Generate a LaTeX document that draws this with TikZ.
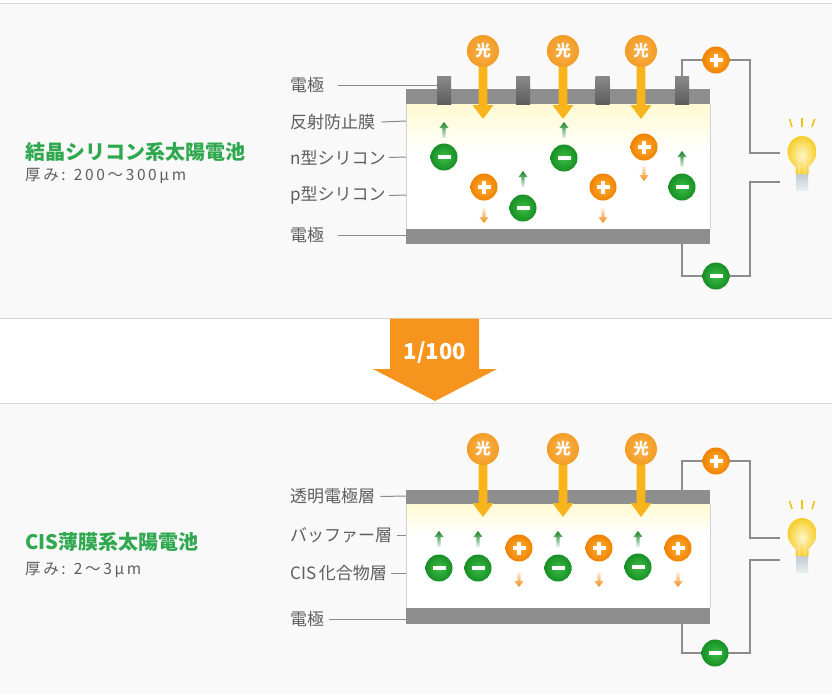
\documentclass[tikz,border=0pt]{standalone}
\usepackage{fontspec}
\setmainfont{Noto Sans CJK JP}
\newfontfamily\jpfont{Noto Sans CJK JP}

\definecolor{panelbg}{HTML}{F9F9F9}
\definecolor{sepline}{HTML}{D6D6D6}
\definecolor{barcol}{HTML}{8E8E8E}
\definecolor{tabtop}{HTML}{8A8A8A}
\definecolor{tabbot}{HTML}{5C5C5C}
\definecolor{wirecol}{HTML}{8C8C8C}
\definecolor{leadcol}{HTML}{8A8A8A}
\definecolor{labelgrey}{HTML}{5E5E5E}
\definecolor{titlegreen}{HTML}{2FA84F}
\definecolor{egreen}{HTML}{178F25}
\definecolor{egreenlt}{HTML}{3CBD45}
\definecolor{horange}{HTML}{F08200}
\definecolor{horangelt}{HTML}{FFB23A}
\definecolor{sunorange}{HTML}{F39C24}
\definecolor{sunorangelt}{HTML}{F9B452}
\definecolor{beamcol}{HTML}{F8B41A}
\definecolor{bigarrow}{HTML}{F7941D}
\definecolor{paleyellow}{HTML}{FFFAD2}
\definecolor{boxedge}{HTML}{D2D2D2}
\definecolor{bulbout}{HTML}{F6CF2E}
\definecolor{bulbin}{HTML}{FFF6C4}
\definecolor{raycol}{HTML}{EEC21C}
\definecolor{basetop}{HTML}{BCC8D0}
\definecolor{basebot}{HTML}{E8EDF0}

\tikzset{
  x=1pt, y=-1pt,
  lbl/.style={font=\jpfont\fontsize{17}{18}\selectfont, text=labelgrey, inner sep=0pt, anchor=west},
  titletext/.style={font=\jpfont\bfseries\fontsize{20}{21}\selectfont, text=titlegreen, inner sep=0pt, anchor=west},
  subtext/.style={font=\jpfont\addfontfeature{LetterSpace=17}\fontsize{15.5}{16}\selectfont, text=labelgrey, inner sep=0pt, anchor=west},
  leader/.style={draw=leadcol, line width=1pt},
  wire/.style={draw=wirecol, line width=2.3pt},
  tabrect/.style={rectangle, minimum width=14pt, minimum height=28pt, inner sep=0pt,
                  top color=tabtop, bottom color=tabbot, draw=none},
  dot/.style={circle, minimum size=27pt, inner sep=0pt},
  % free electron: green disc with a minus sign
  electron/.pic={
    \shade[inner color=egreenlt, outer color=egreen] (0,0) circle (13.5pt);
    \fill[white] (-6.5,-1.7) rectangle (6.5,1.7);
  },
  % hole: orange disc with a plus sign
  hole/.pic={
    \shade[inner color=horangelt, outer color=horange] (0,0) circle (13.5pt);
    \fill[white] (-6.5,-1.6) rectangle (6.5,1.6);
    \fill[white] (-1.6,-6.5) rectangle (1.6,6.5);
  },
  % small drift arrows
  uparrow/.pic={
    \shade[top color=egreen!90!black, bottom color=egreen!10] (0,0) -- (4.6,6) -- (1.7,6) -- (1.7,16)
      -- (-1.7,16) -- (-1.7,6) -- (-4.6,6) -- cycle;
  },
  downarrow/.pic={
    \shade[bottom color=horange!95, top color=horange!12] (0,15) -- (4.6,9) -- (1.7,9) -- (1.7,0)
      -- (-1.7,0) -- (-1.7,9) -- (-4.6,9) -- cycle;
  },
  % incoming light: disc with the character and a downward arrow
  lightbeam/.pic={
    \fill[beamcol] (-4.3,10) -- (4.3,10) -- (4.3,54) -- (10.5,54) -- (0,68) -- (-10.5,54) -- (-4.3,54) -- cycle;
    \shade[inner color=sunorangelt, outer color=sunorange] (0,0) circle (16pt);
    \node[font=\jpfont\bfseries\fontsize{15.5}{16}\selectfont, text=white, inner sep=0pt] at (0,0) {光};
  },
  % light bulb, origin at the top of the glass
  bulb/.pic={
    \draw[raycol, line width=1.6pt] (-12.5,-17) -- (-10,-9);
    \draw[raycol, line width=1.6pt] (0,-18) -- (0,-9);
    \draw[raycol, line width=1.6pt] (12.5,-17) -- (10,-9);
    \shade[top color=basetop, bottom color=basebot] (-6,36) rectangle (6,54);
    \shade[inner color=bulbin, outer color=bulbout]
      (-6.5,38) -- (-6.5,31) .. controls (-11,27) and (-14.5,22) .. (-14.5,16)
      .. controls (-14.5,7) and (-8,0) .. (0,0) .. controls (8,0) and (14.5,7) .. (14.5,16)
      .. controls (14.5,22) and (11,27) .. (6.5,31) -- (6.5,38) -- cycle;
    \draw[white!85!orange, line width=0.8pt] (-3,38) -- (-3,26) -- (0,22) -- (3,26) -- (3,38);
  },
}

\begin{document}
\begin{tikzpicture}
\useasboundingbox (0,0) rectangle (832,694);

% ---------- background bands ----------
\fill[white] (0,0) rectangle (832,694);
\fill[panelbg] (0,3) rectangle (832,318);
\fill[panelbg] (0,403) rectangle (832,694);
\draw[sepline, line width=1pt] (0,3) -- (832,3);
\draw[sepline, line width=1pt] (0,318) -- (832,318);
\draw[sepline, line width=1pt] (0,403) -- (832,403);

% =========================================================
% Crystalline silicon cell
% =========================================================
\node[titletext] (titleA) at (25,151.5) {結晶シリコン系太陽電池};
\node[subtext] (subA) at (25,175.5) {厚み: 200〜300μm};

% cell body
\fill[white] (406,104) rectangle (710,229);
\shade[top color=paleyellow, bottom color=white] (406,104) rectangle (710,152);
\draw[boxedge, line width=0.8pt] (406,104) -- (406,229) (710,104) -- (710,229);
\fill[barcol] (406,89) rectangle (710,104);
\fill[barcol] (406,229) rectangle (710,244);
\coordinate (botA) at (682,244);

% finger electrodes
\node[tabrect] (tab1) at (444,90) {};
\node[tabrect] (tab2) at (523,90) {};
\node[tabrect] (tab3) at (602.5,90) {};
\node[tabrect] (tab4) at (682,90) {};

% layer labels
\node[lbl] (lA1) at (290,85) {電極};
\node[lbl] (lA2) at (290,122) {反射防止膜};
\node[lbl] (lA3) at (290,157.5) {n型シリコン};
\node[lbl] (lA4) at (290,195.5) {p型シリコン};
\node[lbl] (lA5) at (290,235.5) {電極};
\draw[leader] ([xshift=14pt]lA1.east) -- (lA1.east -| tab1.west);
\draw[leader] ([xshift=6pt]lA2.east) -- (406,121);
\draw[leader] ([xshift=3pt]lA3.east) -- (406,157);
\draw[leader] ([xshift=3pt]lA4.east) -- (406,195);
\draw[leader] ([xshift=14pt]lA5.east) -- (406,235.5);

% incoming light
\pic at (483,51) {lightbeam};
\pic at (563,51) {lightbeam};
\pic at (641,51) {lightbeam};

% carriers
\pic at (444,157) {electron};  \pic at (444,122) {uparrow};
\pic at (523,208) {electron};  \pic at (523,171) {uparrow};
\pic at (564,158) {electron};  \pic at (564,122) {uparrow};
\pic at (682,187) {electron};  \pic at (682,151) {uparrow};
\pic at (484,187) {hole};      \pic at (484,208) {downarrow};
\pic at (603,187) {hole};      \pic at (603,208) {downarrow};
\pic at (644,147) {hole};      \pic at (644,166) {downarrow};

% external circuit
\coordinate (cornerA1) at (750,60);
\coordinate (cornerA2) at (750,276);
\coordinate (inA1) at (780,153);
\coordinate (inA2) at (780,182);
\draw[wire] (tab4.north) |- (cornerA1) |- (inA1);
\draw[wire] (inA2) -| (cornerA2) -| (botA);
\node[dot] (pA) at (716,60) {};
\pic at (pA) {hole};
\node[dot] (mA) at (716,276) {};
\pic at (mA) {electron};
\pic at (802,136) {bulb};

% =========================================================
% Reduction arrow
% =========================================================
\fill[bigarrow] (390,318.5) -- (479,318.5) -- (479,369) -- (497,369) -- (435,401)
  -- (373,369) -- (390,369) -- cycle;
\node[font=\jpfont\bfseries\fontsize{22}{22}\selectfont, text=white, inner sep=0pt] (ratio) at (435,353) {1/100};

% =========================================================
% CIS thin-film cell
% =========================================================
\node[titletext] (titleB) at (25,541.5) {CIS薄膜系太陽電池};
\node[subtext] (subB) at (25,570) {厚み: 2〜3μm};

% cell body
\fill[white] (406,504) rectangle (710,608);
\shade[top color=paleyellow, bottom color=white] (406,504) rectangle (710,534);
\draw[boxedge, line width=0.8pt] (406,504) -- (406,608) (710,504) -- (710,608);
\fill[barcol] (406,490) rectangle (710,504);
\fill[barcol] (406,608) rectangle (710,624);
\coordinate (topB) at (682,490);
\coordinate (botB) at (682,624);

% layer labels
\node[lbl] (lB1) at (290,496.5) {透明電極層};
\node[lbl] (lB2) at (290,535) {バッファー層};
\node[lbl] (lB3) at (290,573) {CIS\,化合物層};
\node[lbl] (lB4) at (290,619.5) {電極};
\draw[leader] ([xshift=5pt]lB1.east) -- (406,496);
\draw[leader] ([xshift=5pt]lB2.east) -- (406,535);
\draw[leader] ([xshift=4pt]lB3.east) -- (406,573);
\draw[leader] ([xshift=5pt]lB4.east) -- (406,619.5);

% incoming light
\pic at (483,449) {lightbeam};
\pic at (563,449) {lightbeam};
\pic at (641,449) {lightbeam};

% carriers
\pic at (439,568) {electron};  \pic at (439,531) {uparrow};
\pic at (478,568) {electron};  \pic at (478,531) {uparrow};
\pic at (558,568) {electron};  \pic at (558,531) {uparrow};
\pic at (638,567) {electron};  \pic at (638,531) {uparrow};
\pic at (519,548) {hole};      \pic at (519,572) {downarrow};
\pic at (599,548) {hole};      \pic at (599,572) {downarrow};
\pic at (678,548) {hole};      \pic at (678,572) {downarrow};

% external circuit
\coordinate (cornerB1) at (750,461);
\coordinate (cornerB2) at (750,653);
\coordinate (inB1) at (780,538);
\coordinate (inB2) at (780,560);
\draw[wire] (topB) |- (cornerB1) |- (inB1);
\draw[wire] (inB2) -| (cornerB2) -| (botB);
\node[dot] (pB) at (716,461) {};
\pic at (pB) {hole};
\node[dot] (mB) at (715,653) {};
\pic at (mB) {electron};
\pic at (802,518) {bulb};

\end{tikzpicture}
\end{document}
